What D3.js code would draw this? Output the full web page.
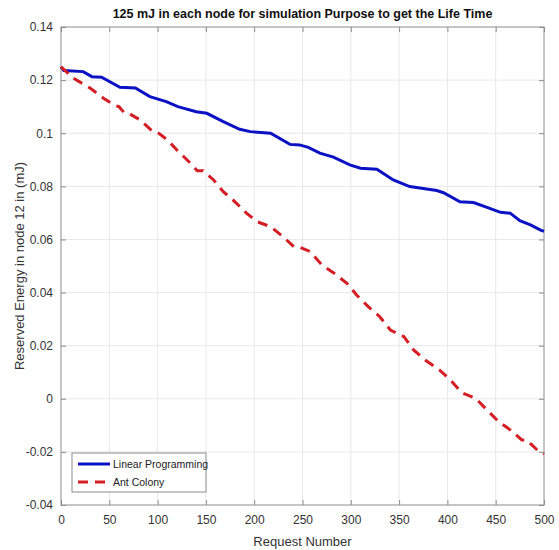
<!DOCTYPE html>
<html>
<head>
<meta charset="utf-8">
<script src="https://cdn.jsdelivr.net/npm/d3@7"></script>
<style>
    body { margin: 0; background: #fff; }
    svg { display: block; font-family: "Liberation Sans", Arial, sans-serif; }
</style>
</head>
<body>
<div class="container"></div>
<script>
// values
var lpRequests = [0, 3, 23, 32, 42, 61, 77, 92, 109, 121, 140, 151, 168, 185, 196, 217, 237, 247, 256, 268, 282, 299, 310, 327, 344, 361, 389, 396, 413, 427, 441, 455, 465, 475, 486, 496, 500];
var lpEnergy = [0.125, 0.1236, 0.1232, 0.1213, 0.1211, 0.1173, 0.117, 0.1138, 0.1119, 0.110, 0.1081, 0.1075, 0.1044, 0.1015, 0.1006, 0.1000, 0.0958, 0.0956, 0.0947, 0.0925, 0.0910, 0.0881, 0.0868, 0.0864, 0.0824, 0.0799, 0.0784, 0.0776, 0.0742, 0.0739, 0.0721, 0.0702, 0.0699, 0.0671, 0.0655, 0.0636, 0.063];

var acRequests = [0, 13, 30, 44, 55, 60, 66, 71, 82, 94, 99, 110, 120, 134, 141, 147, 158, 168, 178, 192, 203, 217, 230, 241, 247, 258, 270, 282, 296, 306, 318, 330, 341, 355, 365, 377, 392, 403, 415, 429, 441, 453, 465, 477, 482, 493, 500];
var acEnergy = [0.125, 0.1207, 0.117, 0.1132, 0.1106, 0.110, 0.1075, 0.1073, 0.105, 0.101, 0.1006, 0.0975, 0.0937, 0.0887, 0.0859, 0.0859, 0.0824, 0.078, 0.0749, 0.0699, 0.0667, 0.0648, 0.061, 0.0573, 0.0571, 0.0554, 0.0504, 0.0475, 0.0435, 0.0391, 0.0347, 0.0309, 0.0259, 0.0234, 0.0184, 0.0146, 0.0108, 0.0071, 0.0023, 0.0002, -0.0042, -0.0086, -0.0117, -0.0155, -0.0155, -0.0193, -0.0208];

var xTicks = [0, 50, 100, 150, 200, 250, 300, 350, 400, 450, 500];
var yTicks = [-0.04, -0.02, 0, 0.02, 0.04, 0.06, 0.08, 0.1, 0.12, 0.14];

var seriesNames = ["Linear Programming", "Ant Colony"];

var WIDTH = 559, HEIGHT = 550;
var MARGIN = { top: 27, right: 15, bottom: 45, left: 61 };
var plotW = WIDTH - MARGIN.left - MARGIN.right;
var plotH = HEIGHT - MARGIN.top - MARGIN.bottom;

var svg = d3.select(".container")
    .append("svg")
    .attr("width", WIDTH)
    .attr("height", HEIGHT);

var g = svg.append("g")
    .attr("transform", `translate(${MARGIN.left}, ${MARGIN.top})`);

var x = d3.scaleLinear().domain([0, 500]).range([0, plotW]);
var y = d3.scaleLinear().domain([-0.04, 0.14]).range([plotH, 0]);

var fmt = d => d === 0 ? "0" : String(+d.toFixed(2));

// grid
g.append("g")
    .selectAll("line")
    .data(xTicks.slice(1, -1))
    .enter()
    .append("line")
    .attr("x1", d => x(d)).attr("x2", d => x(d))
    .attr("y1", 0).attr("y2", plotH)
    .attr("stroke", "#e8e8e8");

g.append("g")
    .selectAll("line")
    .data(yTicks.slice(1, -1))
    .enter()
    .append("line")
    .attr("x1", 0).attr("x2", plotW)
    .attr("y1", d => y(d)).attr("y2", d => y(d))
    .attr("stroke", "#e8e8e8");

// axes, matlab style ticks pointing inward
function styleAxis(sel) {
    sel.select(".domain").remove();
    sel.selectAll("line").attr("stroke", "#8c8c8c");
    sel.selectAll("text")
        .attr("fill", "#333")
        .style("font-size", "12px");
}

g.append("g")
    .attr("transform", `translate(0, ${plotH})`)
    .call(d3.axisBottom(x).tickValues(xTicks).tickSizeInner(-5).tickSizeOuter(0).tickPadding(10))
    .call(styleAxis);

g.append("g")
    .call(d3.axisTop(x).tickValues(xTicks).tickSizeInner(-5).tickSizeOuter(0).tickFormat(""))
    .call(styleAxis);

g.append("g")
    .call(d3.axisLeft(y).tickValues(yTicks).tickSizeInner(-5).tickSizeOuter(0).tickPadding(8).tickFormat(fmt))
    .call(styleAxis);

g.append("g")
    .attr("transform", `translate(${plotW}, 0)`)
    .call(d3.axisRight(y).tickValues(yTicks).tickSizeInner(-5).tickSizeOuter(0).tickFormat(""))
    .call(styleAxis);

g.append("rect")
    .attr("width", plotW)
    .attr("height", plotH)
    .attr("fill", "none")
    .attr("stroke", "#8c8c8c");

// lines
var line = d3.line()
    .x(d => x(d[0]))
    .y(d => y(d[1]));

g.append("path")
    .datum(d3.zip(lpRequests, lpEnergy))
    .attr("d", line)
    .attr("fill", "none")
    .attr("stroke", "#0a12c4")
    .attr("stroke-width", 3);

g.append("path")
    .datum(d3.zip(acRequests, acEnergy))
    .attr("d", line)
    .attr("fill", "none")
    .attr("stroke", "#d41e24")
    .attr("stroke-width", 3)
    .attr("stroke-dasharray", "10,7");

// title and labels
svg.append("text")
    .attr("x", MARGIN.left + plotW / 2)
    .attr("y", 18)
    .attr("text-anchor", "middle")
    .style("font-size", "12.5px")
    .style("font-weight", "bold")
    .attr("fill", "#111")
    .text("125 mJ in each node for simulation Purpose to get the Life Time");

svg.append("text")
    .attr("x", MARGIN.left + plotW / 2)
    .attr("y", 546)
    .attr("text-anchor", "middle")
    .style("font-size", "13px")
    .attr("fill", "#333")
    .text("Request Number");

svg.append("text")
    .attr("transform", `translate(24, ${MARGIN.top + plotH / 2}) rotate(-90)`)
    .attr("text-anchor", "middle")
    .style("font-size", "13px")
    .attr("fill", "#333")
    .text("Reserved Energy in node 12 in (mJ)");

// legend
var legend = svg.append("g")
    .attr("transform", "translate(72, 453)");

legend.append("rect")
    .attr("width", 134)
    .attr("height", 39)
    .attr("fill", "#fff")
    .attr("stroke", "#8c8c8c");

var legendColors = ["#0a12c4", "#d41e24"];
var legendDash = [null, "10,7"];

var items = legend.selectAll("g.item")
    .data(seriesNames)
    .enter()
    .append("g")
    .attr("class", "item")
    .attr("transform", (d, i) => `translate(0, ${11 + i * 18})`);

items.append("line")
    .attr("x1", 6).attr("x2", 38)
    .attr("stroke", (d, i) => legendColors[i])
    .attr("stroke-width", 3)
    .attr("stroke-dasharray", (d, i) => legendDash[i]);

items.append("text")
    .attr("x", 41)
    .attr("dy", "0.35em")
    .style("font-size", "10.5px")
    .attr("fill", "#222")
    .text(d => d);
</script>
</body>
</html>
